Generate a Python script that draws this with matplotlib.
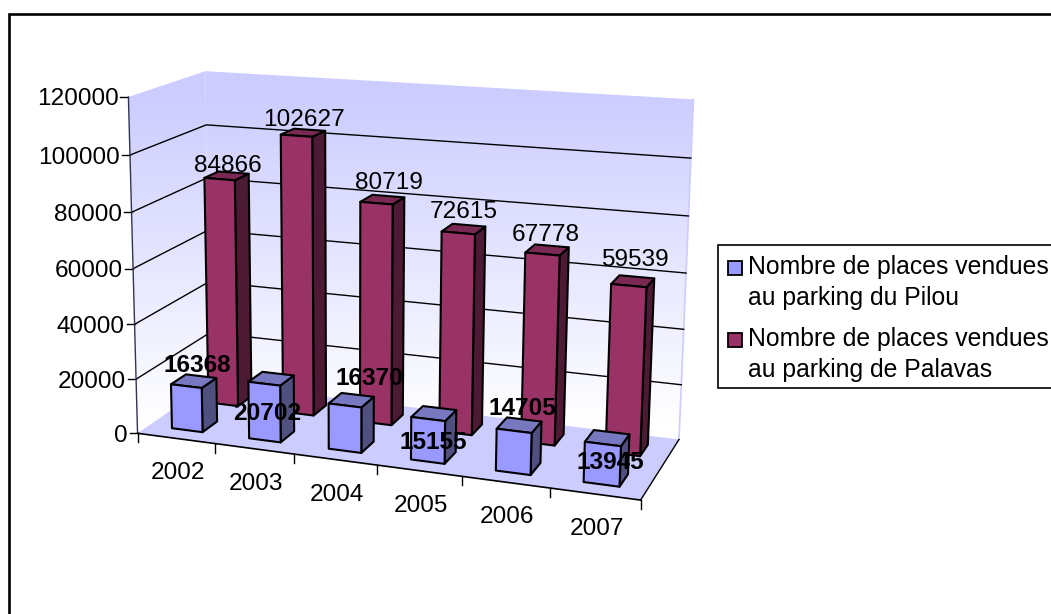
"""
Excel style 3D column chart, parking sales per year
"""

import numpy as np
import matplotlib
matplotlib.use("Agg")
import matplotlib.pyplot as plt
from matplotlib.patches import Polygon, Rectangle

years = ["2002", "2003", "2004", "2005", "2006", "2007"]
pilou = [16368, 20702, 16370, 15155, 14705, 13945]
palavas = [84866, 102627, 80719, 72615, 67778, 59539]
y_ticks = [0, 20000, 40000, 60000, 80000, 100000, 120000]
legend_lines = [
    ("Nombre de places vendues", "au parking du Pilou"),
    ("Nombre de places vendues", "au parking de Palavas"),
]

# hand placed label nudges in pixels, same as the source chart
pilou_nudge = [(4, 0), (-4, 50), (18, -6), (-1, 45), (3, -1), (3, 40)]
palavas_nudge = [(1, 5), (1, 2), (7, -2), (0, -2), (-1, 0), (2, -6)]

Y_MAX = 120000
GAP = 0.3  # gap each side of a column, fraction of a slot
FONT = 17.6

# known points of the plot box in the picture: (across, depth, height) -> pixel
BOX_POINTS = [
    ((0, 0, 0), (139, 434)),
    ((0, 0, 1), (128, 96)),
    ((0, 0, 5 / 6), (129.5, 155)),
    ((0, 0, 1 / 2), (133, 269)),
    ((0, 1, 0), (209, 382)),
    ((0, 1, 1), (206, 71)),
    ((0, 1, 5 / 6), (207, 126)),
    ((1, 1, 1), (695, 98)),
    ((1, 1, 5 / 6), (690, 159)),
    ((1, 1, 2 / 3), (687, 217)),
    ((1, 1, 1 / 2), (685.5, 273)),
    ((1, 1, 0), (681, 439)),
    ((1, 0, 0), (640, 500)),
]


def fit_camera(points):
    """Solve the 3x4 perspective matrix from the box points"""
    rows = []
    for (x, y, z), (px, py) in points:
        rows.append([x, y, z, 1, 0, 0, 0, 0, -px * x, -px * y, -px * z, -px])
        rows.append([0, 0, 0, 0, x, y, z, 1, -py * x, -py * y, -py * z, -py])
    _, _, vt = np.linalg.svd(np.array(rows, dtype=float))
    return vt[-1].reshape(3, 4)


CAMERA = fit_camera(BOX_POINTS)


def project(x, y, z):
    p = CAMERA @ np.array([x, y, z, 1.0])
    return p[0] / p[2], p[1] / p[2]


def draw_face(ax, points, color, zorder):
    ax.add_patch(Polygon([project(*p) for p in points], closed=True, facecolor=color,
                         edgecolor="black", linewidth=1.5, joinstyle="round", zorder=zorder))


def draw_column(ax, slot, series, value, colors, zorder):
    n = len(years)
    x0, x1 = (slot + GAP) / n, (slot + 1 - GAP) / n
    y0, y1 = (series + GAP) / 2, (series + 1 - GAP) / 2
    z = value / Y_MAX
    front, side, top = colors
    draw_face(ax, [(x1, y0, 0), (x1, y1, 0), (x1, y1, z), (x1, y0, z)], side, zorder)
    draw_face(ax, [(x0, y0, z), (x1, y0, z), (x1, y1, z), (x0, y1, z)], top, zorder)
    draw_face(ax, [(x0, y0, 0), (x1, y0, 0), (x1, y0, z), (x0, y0, z)], front, zorder)


def gradient_wall(ax, points):
    """Vertical fade from lavender to white, clipped to one wall"""
    poly = Polygon([project(*p) for p in points], closed=True, facecolor="none", edgecolor="none")
    ax.add_patch(poly)
    top = np.array([204, 204, 255]) / 255
    fade = np.clip((np.linspace(0, 1, 256) - 0.06) / 0.94, 0, 1)[:, None, None]
    img = top + (1 - top) * fade
    y_top = project(0, 1, 1)[1]
    y_bot = project(1, 1, 0)[1]
    im = ax.imshow(img, extent=(100, 720, y_bot - 15, y_top), aspect="auto", zorder=1,
                   interpolation="bilinear")
    im.set_clip_path(poly)


def main():
    plt.rcParams["font.family"] = ["Liberation Sans", "DejaVu Sans"]
    fig = plt.figure(figsize=(10.51, 6.14), dpi=100)
    ax = fig.add_axes([0, 0, 1, 1])

    # outer frame, only top and left survive in the crop
    ax.plot([9, 9, 1060], [620, 14, 14], color="black", linewidth=1.9, zorder=0,
            solid_joinstyle="miter")

    # walls and floor
    gradient_wall(ax, [(0, 1, 0), (1, 1, 0), (1, 1, 1), (0, 1, 1)])
    gradient_wall(ax, [(0, 0, 0), (0, 1, 0), (0, 1, 1), (0, 0, 1)])
    floor = [project(*p) for p in [(0, 0, 0), (1, 0, 0), (1, 1, 0), (0, 1, 0)]]
    ax.add_patch(Polygon(floor, closed=True, facecolor="#CCCCFF", edgecolor="none", zorder=2))
    ax.plot(*zip(project(1, 1, 0), project(1, 1, 1)), color="#CCCCFF", linewidth=1.2, zorder=2)

    # gridlines and value axis
    for tick in y_ticks:
        z = tick / Y_MAX
        if 0 < tick < Y_MAX:
            pts = [project(0, 0, z), project(0, 1, z), project(1, 1, z)]
            ax.plot(*zip(*pts), color="black", linewidth=1.0, zorder=3)
        px, py = project(0, 0, z)
        ax.plot([px - 8, px], [py, py], color="black", linewidth=1.0, zorder=3)
        ax.text(px - 10, py, str(tick), ha="right", va="center_baseline", fontsize=FONT, zorder=6)
    ax.plot(*zip(project(0, 0, 0), project(0, 0, 1)), color="#333355", linewidth=1.0, zorder=3)

    # category axis
    ax.plot(*zip(project(0, 0, 0), project(1, 0, 0)), color="black", linewidth=1.2, zorder=3)
    ax.plot(*zip(project(1, 0, 0), project(1, 1, 0)), color="black", linewidth=1.0, zorder=3)
    n = len(years)
    for i in range(n + 1):
        px, py = project(i / n, 0, 0)
        ax.plot([px, px], [py, py + 9], color="black", linewidth=1.0, zorder=3)
    for i, year in enumerate(years):
        cx, cy = project((i + 0.5) / n, 0, 0)
        ax.text(cx + 2, cy + 35, year, ha="center", va="center", fontsize=FONT, zorder=6)

    # columns, back row first
    back_colors = ("#993366", "#4D1A33", "#7A2952")
    front_colors = ("#9999FF", "#4F4F80", "#7878C0")
    for i, value in enumerate(palavas):
        draw_column(ax, i, 1, value, back_colors, 4)
    for i, value in enumerate(pilou):
        draw_column(ax, i, 0, value, front_colors, 5)

    # data labels
    for i, value in enumerate(palavas):
        px, py = project((i + 0.5) / n, 0.75, value / Y_MAX)
        dx, dy = palavas_nudge[i]
        ax.text(px + dx, py - 4 + dy, str(value), ha="center", va="bottom", fontsize=FONT, zorder=7)
    for i, value in enumerate(pilou):
        px, py = project((i + 0.5) / n, 0.25, value / Y_MAX)
        dx, dy = pilou_nudge[i]
        ax.text(px + dx, py - 4 + dy, str(value), ha="center", va="bottom", fontsize=FONT,
                fontweight="bold", zorder=7)

    # legend
    ax.add_patch(Rectangle((717.5, 244.5), 340, 143, facecolor="white", edgecolor="black",
                           linewidth=1.2, zorder=6))
    for (line1, line2), color, y in zip(legend_lines, ["#9999FF", "#993366"], [282, 354]):
        ax.add_patch(Rectangle((727.5, y - 21), 14, 13.5, facecolor=color, edgecolor="black",
                               linewidth=1.3, zorder=7))
        ax.text(748, y - 15, line1, ha="left", va="center", fontsize=17.8, zorder=7)
        ax.text(748, y + 16, line2, ha="left", va="center", fontsize=17.8, zorder=7)

    ax.set_xlim(0, 1051)
    ax.set_ylim(614, 0)
    ax.axis("off")
    fig.savefig("out.png", dpi=100)


if __name__ == "__main__":
    main()
